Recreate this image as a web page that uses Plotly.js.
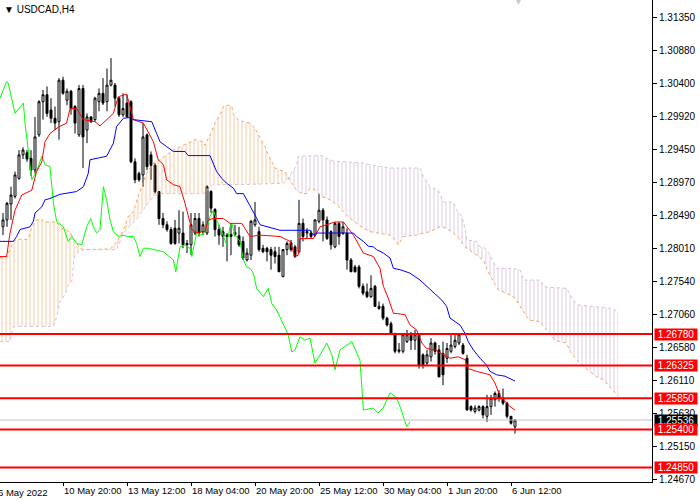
<!DOCTYPE html>
<html>
<head>
<meta charset="utf-8">
<script src="https://cdn.plot.ly/plotly-3.0.1.min.js"></script>
<style>html,body{margin:0;padding:0;background:#fff;}#chart{width:700px;height:500px;}</style>
</head>
<body>
<div id="chart"></div>
<script>
// ---- Data (USDCAD, H4) ----
const symbolTitle = "USDCAD,H4";
const firstBar = 1;
const barOpen = [1.2833,1.2843,1.2866,1.2877,1.2903,1.2937,1.2940,1.2932,1.2915,1.2966,1.3014,1.3024,1.3002,1.2990,1.2985,1.3045,1.3016,1.3029,1.3007,1.2966,1.3033,1.2973,1.2992,1.2988,1.3014,1.3026,1.3014,1.3038,1.3038,1.3019,1.2995,1.3012,1.3014,1.2927,1.2910,1.2908,1.2966,1.2937,1.2922,1.2884,1.2845,1.2836,1.2829,1.2831,1.2824,1.2824,1.2809,1.2807,1.2824,1.2845,1.2826,1.2824,1.2884,1.2858,1.2829,1.2826,1.2821,1.2819,1.2822,1.2820,1.2812,1.2785,1.2792,1.2836,1.2826,1.2802,1.2802,1.2800,1.2797,1.2792,1.2761,1.2800,1.2810,1.2804,1.2797,1.2838,1.2824,1.2824,1.2821,1.2841,1.2857,1.2843,1.2826,1.2804,1.2838,1.2824,1.2824,1.2785,1.2775,1.2775,1.2747,1.2739,1.2732,1.2747,1.2715,1.2718,1.2701,1.2693,1.2679,1.2653,1.2653,1.2667,1.2677,1.2669,1.2677,1.2648,1.2636,1.2645,1.2665,1.2655,1.2650,1.2643,1.2653,1.2660,1.2665,1.2662,1.2643,1.2573,1.2566,1.2568,1.2573,1.2559,1.2573,1.2583,1.2592,1.2585,1.2578,1.2559,1.2544];
const barHigh = [1.2853,1.2869,1.2891,1.2913,1.2944,1.2948,1.2944,1.2944,1.2992,1.3016,1.3031,1.3036,1.3019,1.3007,1.3048,1.3050,1.3033,1.3031,1.3009,1.3038,1.3038,1.2997,1.2992,1.3021,1.3033,1.3048,1.3062,1.3077,1.3041,1.3021,1.3026,1.3024,1.3016,1.2932,1.2913,1.2983,1.2968,1.2942,1.2925,1.2884,1.2853,1.2841,1.2833,1.2843,1.2857,1.2855,1.2814,1.2853,1.2853,1.2853,1.2841,1.2893,1.2886,1.2860,1.2836,1.2833,1.2824,1.2838,1.2836,1.2833,1.2819,1.2802,1.2843,1.2869,1.2833,1.2807,1.2804,1.2804,1.2804,1.2804,1.2801,1.2812,1.2814,1.2807,1.2872,1.2845,1.2831,1.2828,1.2844,1.2881,1.2860,1.2848,1.2828,1.2840,1.2840,1.2840,1.2831,1.2788,1.2778,1.2778,1.2751,1.2751,1.2763,1.2749,1.2725,1.2722,1.2703,1.2696,1.2679,1.2665,1.2679,1.2684,1.2681,1.2684,1.2679,1.2650,1.2655,1.2672,1.2667,1.2662,1.2667,1.2665,1.2677,1.2679,1.2679,1.2665,1.2648,1.2575,1.2575,1.2575,1.2575,1.2590,1.2590,1.2595,1.2597,1.2599,1.2580,1.2559,1.2554];
const barLow = [1.2821,1.2833,1.2843,1.2874,1.2901,1.2931,1.2927,1.2906,1.2910,1.2963,1.2988,1.2992,1.2983,1.2973,1.2959,1.3024,1.3009,1.2995,1.2968,1.2963,1.2918,1.2954,1.2983,1.2985,1.3000,1.3009,1.3000,1.3036,1.3007,1.2992,1.2992,1.2991,1.2925,1.2896,1.2898,1.2891,1.2915,1.2901,1.2881,1.2836,1.2831,1.2826,1.2807,1.2807,1.2809,1.2802,1.2795,1.2792,1.2821,1.2819,1.2821,1.2821,1.2853,1.2819,1.2807,1.2804,1.2783,1.2792,1.2819,1.2804,1.2785,1.2783,1.2785,1.2833,1.2797,1.2795,1.2783,1.2771,1.2780,1.2768,1.2760,1.2792,1.2797,1.2788,1.2795,1.2812,1.2816,1.2816,1.2819,1.2838,1.2812,1.2814,1.2800,1.2802,1.2807,1.2821,1.2771,1.2768,1.2767,1.2744,1.2734,1.2730,1.2730,1.2718,1.2713,1.2698,1.2689,1.2677,1.2650,1.2650,1.2650,1.2665,1.2655,1.2655,1.2628,1.2628,1.2633,1.2638,1.2648,1.2616,1.2604,1.2636,1.2650,1.2657,1.2662,1.2648,1.2568,1.2566,1.2563,1.2566,1.2556,1.2551,1.2561,1.2573,1.2580,1.2575,1.2556,1.2547,1.2534];
const barClose = [1.2843,1.2867,1.2879,1.2908,1.2937,1.2944,1.2931,1.2915,1.2963,1.3014,1.3024,1.2997,1.2990,1.2983,1.3045,1.3026,1.3029,1.3004,1.2983,1.3033,1.2963,1.2992,1.2985,1.3019,1.3026,1.3012,1.3038,1.3045,1.3019,1.2995,1.3004,1.2992,1.2927,1.2901,1.2901,1.2963,1.2920,1.2922,1.2884,1.2845,1.2836,1.2829,1.2809,1.2809,1.2831,1.2807,1.2807,1.2836,1.2845,1.2824,1.2836,1.2891,1.2860,1.2829,1.2821,1.2819,1.2819,1.2822,1.2825,1.2807,1.2788,1.2795,1.2841,1.2843,1.2800,1.2797,1.2797,1.2792,1.2790,1.2768,1.2800,1.2809,1.2800,1.2790,1.2838,1.2819,1.2826,1.2819,1.2843,1.2857,1.2843,1.2816,1.2807,1.2838,1.2819,1.2833,1.2785,1.2768,1.2768,1.2747,1.2737,1.2732,1.2744,1.2718,1.2718,1.2701,1.2691,1.2679,1.2653,1.2655,1.2677,1.2677,1.2669,1.2677,1.2633,1.2633,1.2648,1.2665,1.2653,1.2616,1.2619,1.2657,1.2662,1.2669,1.2677,1.2650,1.2568,1.2568,1.2571,1.2573,1.2561,1.2573,1.2585,1.2592,1.2585,1.2578,1.2559,1.2549,1.25536];

// Tenkan-sen (red)
const tenkanIdx = [0.25,1.9,2.75,4,5.7,8.2,9.4,10.7,11.5,12.75,14.8,16.9,17.75,19.4,21.1,24,25.25,26.9,28.6,29.8,31.9,32.75,33.6,36.1,38.6,39.8,41.1,41.9,43.6,45.25,46.5,48.2,49.4,51.5,52.3,53.6,56.1,57.75,60.7,62.75,65.25,70.25,72.75,74,74.8,75.25,78.6,80.25,84,86.1,88.6,91.1,93.6,95.25,96.1,97.3,98.6,100.25,101.5,102.75,104.4,105.7,106.9,109,110.7,112.75,114.8,116.5,117.3,119.4,122.75,124,125.25,126.5,127.75,129];
const tenkanVal = [1.2790,1.2790,1.2824,1.2857,1.2879,1.2886,1.2913,1.2927,1.2956,1.2968,1.2977,1.2983,1.3004,1.3004,1.2988,1.2985,1.2979,1.2988,1.2997,1.3021,1.3025,1.3007,1.2988,1.2983,1.2956,1.2930,1.2923,1.2901,1.2894,1.2891,1.2867,1.2829,1.2825,1.2826,1.2843,1.2845,1.2845,1.2838,1.2838,1.2819,1.2821,1.2819,1.2812,1.2790,1.2792,1.2816,1.2816,1.2833,1.2840,1.2840,1.2821,1.2795,1.2790,1.2773,1.2747,1.2730,1.2708,1.2707,1.2706,1.2691,1.2684,1.2665,1.2657,1.2655,1.2650,1.2643,1.2645,1.2641,1.2628,1.2624,1.2619,1.2607,1.2588,1.2580,1.2573,1.2568];

// Kijun-sen (blue)
const kijunIdx = [0.25,3.6,4.4,5.25,7.75,8.6,9,10.7,11.5,12.75,15.25,19.4,21.1,22.3,22.75,26.9,28.6,29.4,31.1,32.75,33.6,38.2,39.4,40.25,41.9,43.6,46.5,47.3,52.75,54.4,55.7,56.9,58.6,59.4,61.1,62.75,64,65.25,67.3,70.25,77.75,78.6,79.4,88.6,89.4,91.1,92.3,93.6,94.4,96.1,97.75,98.6,100.25,102.75,105.25,107.75,110.7,111.9,112.75,115.25,116.5,117.3,118.6,120.25,121.9,122.75,124.4,126.5,128.2,129];
const kijunVal = [1.2812,1.2812,1.2819,1.2829,1.2833,1.2841,1.2853,1.2862,1.2872,1.2874,1.2880,1.2884,1.2891,1.2910,1.2930,1.2935,1.2954,1.2978,1.2990,1.2991,1.2988,1.2985,1.2968,1.2956,1.2949,1.2942,1.2942,1.2936,1.2936,1.2913,1.2903,1.2896,1.2889,1.2881,1.2881,1.2862,1.2850,1.2836,1.2833,1.2828,1.2828,1.2821,1.2824,1.2824,1.2819,1.2812,1.2805,1.2804,1.2800,1.2795,1.2788,1.2773,1.2771,1.2766,1.2756,1.2742,1.2727,1.2718,1.2701,1.2691,1.2679,1.2667,1.2655,1.2643,1.2633,1.2624,1.2619,1.2617,1.2613,1.2610];

// Chikou span (green)
const chikouIdx = [0.25,1.9,2.3,4,6.1,6.5,8.2,9.4,10.7,11.5,12.75,13.6,14.4,16.1,17.3,18.2,19.4,20.7,21.9,22.9,23.6,24.4,25.25,26.1,26.9,27.75,28.6,29.8,31.1,32.3,33.6,34.4,35.25,36.1,37.3,38.6,41.1,43.6,44.2,45.25,46.5,47.75,48.2,49.4,50.7,51.9,52.75,53.6,54.4,55.7,56.9,57.75,58.2,59,60.25,61.1,61.9,62.75,63.6,64.4,66.1,67.3,68.2,69.4,71.1,72.3,73.2,74,75.25,76.5,77.75,79,80.7,81.9,83.2,84,85.25,86.9,88.2,90.25,90.7,91.1,93.5,94.75,96,97.75,99.4,100.7,101.9,102.75];
const chikouVal = [1.3019,1.3043,1.3041,1.2997,1.3012,1.2983,1.2901,1.2913,1.2935,1.2923,1.2920,1.2867,1.2841,1.2833,1.2812,1.2819,1.2809,1.2807,1.2833,1.2845,1.2833,1.2824,1.2829,1.2891,1.2872,1.2843,1.2826,1.2819,1.2821,1.2819,1.2819,1.2809,1.2790,1.2802,1.2802,1.2800,1.2797,1.2785,1.2768,1.2804,1.2807,1.2802,1.2790,1.2824,1.2821,1.2829,1.2848,1.2857,1.2843,1.2826,1.2807,1.2833,1.2838,1.2821,1.2812,1.2785,1.2775,1.2773,1.2766,1.2744,1.2732,1.2744,1.2722,1.2713,1.2693,1.2677,1.2652,1.2655,1.2674,1.2669,1.2672,1.2636,1.2652,1.2665,1.2648,1.2626,1.2655,1.2662,1.2667,1.2640,1.2595,1.2568,1.2571,1.2564,1.2571,1.2593,1.2586,1.2566,1.2544,1.2551];

// Senkou span A (sandy brown) and B (thistle)
const spanAIdx = [0.25,1.9,2.3,3.6,4.8,7.3,8.2,9.4,10.7,11.1,14.4,15.7,16.9,17.75,19,20.25,21.1,27.75,29,30.25,31.1,32.3,33.6,34.8,36.9,38.6,40.25,43.6,47.75,49,51.1,51.5,53.2,54,55.7,56.1,57.1,58.2,58.6,59.8,61.1,62.75,64,65.25,66.5,67.3,68.2,69,70.25,71.5,72.3,73.2,74.4,75.7,76.9,77.75,79,80.7,82.75,84.4,86.1,87.75,89.4,91.1,92.75,94.4,97.75,99,99.8,101.1,104.4,106.1,107.75,110.25,111.9,113.6,115.25,116.5,118.2,119.8,121.1,121.9,123.2,124.8,126.9,129,130.25,131.9,132.75,135.25,136.1,137.75,139,141.9,142.75,144.4,146.1,147.75,149.4,151.1,153,154.8];
const spanAVal = [1.2788,1.2788,1.2795,1.2812,1.2815,1.2815,1.2833,1.2843,1.2844,1.2840,1.2840,1.2831,1.2828,1.2826,1.2812,1.2802,1.2800,1.2801,1.2807,1.2819,1.2828,1.2848,1.2855,1.2877,1.2910,1.2925,1.2930,1.2944,1.2956,1.2959,1.2956,1.2951,1.2971,1.2983,1.3000,1.3007,1.3009,1.3007,1.2995,1.2988,1.2985,1.2983,1.2975,1.2963,1.2949,1.2937,1.2927,1.2918,1.2915,1.2913,1.2903,1.2896,1.2886,1.2881,1.2881,1.2889,1.2886,1.2877,1.2872,1.2865,1.2855,1.2845,1.2838,1.2831,1.2826,1.2824,1.2821,1.2814,1.2807,1.2819,1.2821,1.2824,1.2826,1.2833,1.2831,1.2824,1.2814,1.2804,1.2797,1.2790,1.2785,1.2773,1.2758,1.2742,1.2737,1.2730,1.2718,1.2703,1.2698,1.2696,1.2689,1.2679,1.2669,1.2665,1.2653,1.2641,1.2631,1.2624,1.2616,1.2612,1.2600,1.2588];
const spanBIdx = [0.25,2.75,3.6,13.6,14.4,15.25,16.5,17.3,18.2,18.75,19.8,21.1,29.4,31.1,34.4,38.6,40.25,45.25,47.75,51.1,52.75,53.6,60.25,66.1,71.1,72.3,73.6,74.4,74.8,80.7,81.9,83.6,86.9,91.1,94.4,97.75,105.25,106.1,107.75,109.8,111.1,113.6,114.4,115.7,116.5,116.9,119.4,120.25,121.5,122.75,124.4,128.2,130.25,131.1,135.25,136.5,141.9,143.6,144.8,151.1,153.2,154.8];
const spanBVal = [1.2667,1.2667,1.2689,1.2689,1.2703,1.2725,1.2735,1.2749,1.2754,1.2788,1.2797,1.2800,1.2800,1.2824,1.2845,1.2877,1.2881,1.2881,1.2881,1.2881,1.2889,1.2894,1.2894,1.2895,1.2896,1.2903,1.2915,1.2922,1.2935,1.2936,1.2932,1.2928,1.2927,1.2925,1.2921,1.2918,1.2918,1.2906,1.2891,1.2886,1.2869,1.2869,1.2857,1.2848,1.2831,1.2814,1.2812,1.2804,1.2802,1.2792,1.2773,1.2773,1.2771,1.2756,1.2756,1.2746,1.2744,1.2727,1.2720,1.2717,1.2715,1.2710];
const cloudCross = 72.3; // where span A drops below span B

// Price levels and axis labels
const levels = [1.26780,1.26325,1.25850,1.25400,1.24850];
const lastPrice = 1.25536;
const yTicks = [1.31350,1.30880,1.30400,1.29920,1.29450,1.28970,1.28490,1.28010,1.27540,1.27060,1.26580,1.26110,1.25630,1.25150,1.24670];
const xTickIdx = [16,32,48,64,80,96,112,128];
const xTickText = ['10 May 20:00','13 May 12:00','18 May 04:00','20 May 20:00','25 May 12:00','30 May 04:00','1 Jun 20:00','6 Jun 12:00'];
const firstDateLabel = '6 May 2022';

// ---- Build chart ----
const FONT = 'Liberation Sans, Arial, sans-serif';
const barX = barOpen.map((_, k) => firstBar + k);

function seg(idx, val, from, to) {
  const x = [], y = [];
  idx.forEach((v, k) => { if (v >= from && v <= to) { x.push(v); y.push(val[k]); } });
  return {x, y};
}
const a1 = seg(spanAIdx, spanAVal, -1, cloudCross), b1 = seg(spanBIdx, spanBVal, -1, cloudCross);
const a2 = seg(spanAIdx, spanAVal, cloudCross, 999), b2 = seg(spanBIdx, spanBVal, cloudCross, 999);

function hatch(color, op) {
  return {shape: '|', fgcolor: color, bgcolor: 'rgba(0,0,0,0)', size: 4, solidity: 0.25, fillmode: 'overlay', fgopacity: op};
}
const noLine = {width: 0, color: 'rgba(0,0,0,0)'};

const traces = [
  {type: 'scatter', mode: 'lines', x: b1.x, y: b1.y, line: noLine, hoverinfo: 'skip'},
  {type: 'scatter', mode: 'lines', x: a1.x, y: a1.y, line: noLine, fill: 'tonexty', fillcolor: 'rgba(0,0,0,0)', fillpattern: hatch('#f4a460', 0.6), hoverinfo: 'skip'},
  {type: 'scatter', mode: 'lines', x: a2.x, y: a2.y, line: noLine, hoverinfo: 'skip'},
  {type: 'scatter', mode: 'lines', x: b2.x, y: b2.y, line: noLine, fill: 'tonexty', fillcolor: 'rgba(0,0,0,0)', fillpattern: hatch('#c8a8c8', 0.6), hoverinfo: 'skip'},
  {type: 'scatter', mode: 'lines', x: spanAIdx, y: spanAVal, line: {color: '#f4a460', width: 1, dash: 'dot'}},
  {type: 'scatter', mode: 'lines', x: spanBIdx, y: spanBVal, line: {color: '#d8bfd8', width: 1, dash: 'dot'}},
  {type: 'candlestick', x: barX, open: barOpen, high: barHigh, low: barLow, close: barClose,
   increasing: {line: {color: '#000', width: 1}, fillcolor: '#ffffff'},
   decreasing: {line: {color: '#000', width: 1}, fillcolor: '#000000'},
   whiskerwidth: 0},
  {type: 'scatter', mode: 'lines', x: chikouIdx, y: chikouVal, line: {color: '#00ff00', width: 1}},
  {type: 'scatter', mode: 'lines', x: tenkanIdx, y: tenkanVal, line: {color: '#ff0000', width: 1}},
  {type: 'scatter', mode: 'lines', x: kijunIdx, y: kijunVal, line: {color: '#0000ff', width: 1}}
];

const shapes = [
  {type: 'line', xref: 'paper', x0: 0, x1: 1, yref: 'y', y0: lastPrice, y1: lastPrice, line: {color: '#c0c0c0', width: 1}, layer: 'above'}
].concat(levels.map(v => ({type: 'line', xref: 'paper', x0: 0, x1: 1, yref: 'y', y0: v, y1: v, line: {color: '#ff0000', width: 2}, layer: 'above'})));

const labelBox = (v, bg) => ({
  xref: 'paper', x: 1, xanchor: 'left', xshift: 2, yref: 'y', y: v, yanchor: 'middle',
  text: v.toFixed(5), showarrow: false, bgcolor: bg, borderpad: 0, width: 42, height: 11,
  font: {family: FONT, size: 10, color: '#ffffff'}
});

const annotations = [
  {xref: 'paper', yref: 'paper', x: 0, y: 1, xanchor: 'left', yanchor: 'top', xshift: 2, yshift: -2,
   text: '▼ ' + symbolTitle, showarrow: false, font: {family: FONT, size: 10, color: '#000'}},
  {xref: 'paper', yref: 'paper', x: 0, y: 0, xanchor: 'left', yanchor: 'top', xshift: -4, yshift: -3,
   text: firstDateLabel, showarrow: false, font: {family: FONT, size: 9.5, color: '#000'}},
  {xref: 'paper', yref: 'paper', x: 518 / 652, y: 1, xanchor: 'center', yanchor: 'middle', yshift: 2,
   text: '▼', showarrow: false, font: {family: 'DejaVu Sans', size: 14, color: '#c8c8c8'}},
  labelBox(lastPrice, '#000000')
].concat(levels.map(v => labelBox(v, '#ff0000')));

const layout = {
  width: 700, height: 500,
  margin: {l: 0, r: 48, t: 0, b: 18, pad: 0},
  paper_bgcolor: '#ffffff', plot_bgcolor: '#ffffff',
  showlegend: false, hovermode: false,
  xaxis: {
    range: [0.25, 163.25], showgrid: false, zeroline: false,
    tickmode: 'array', tickvals: xTickIdx, ticktext: xTickText,
    ticks: 'outside', ticklen: 3, tickcolor: '#000', tickwidth: 1,
    ticklabelposition: 'outside right', tickangle: 0, automargin: false,
    showline: true, linecolor: '#000', linewidth: 1,
    tickfont: {family: FONT, size: 9.5, color: '#000'},
    rangeslider: {visible: false}, fixedrange: true
  },
  yaxis: {
    range: [1.2464, 1.3161], side: 'right', showgrid: false, zeroline: false,
    tickmode: 'array', tickvals: yTicks, ticktext: yTicks.map(v => v.toFixed(5)),
    ticks: 'outside', ticklen: 4, tickcolor: '#000', tickwidth: 1,
    showline: true, linecolor: '#000', linewidth: 1, automargin: false,
    tickfont: {family: FONT, size: 10, color: '#000'}, fixedrange: true
  },
  shapes: shapes,
  annotations: annotations
};

Plotly.newPlot('chart', traces, layout, {displayModeBar: false, staticPlot: true});
</script>
</body>
</html>
